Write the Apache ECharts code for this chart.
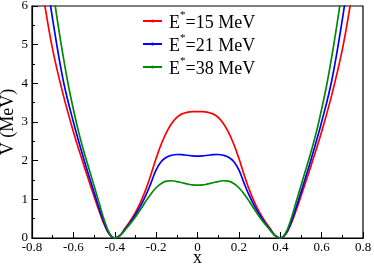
<!DOCTYPE html>
<html>
<head>
<meta charset="utf-8">
<script src="https://cdn.jsdelivr.net/npm/echarts@6/dist/echarts.min.js"></script>
<style>html,body{margin:0;padding:0;background:#fff;}#c{width:374px;height:266px;}</style>
</head>
<body>
<div id="c"></div>
<script>
var legendNames = ['=15 MeV', '=21 MeV', '=38 MeV'];
var seriesColors = ['#ff0000', '#0000ff', '#008b00'];

var red = [
  [-0.76, 6.7], [-0.74, 6.07], [-0.7, 4.87], [-0.65, 3.72], [-0.6, 2.75], [-0.55, 1.89], [-0.525, 1.48],
  [-0.5, 1.08], [-0.475, 0.69], [-0.45, 0.34], [-0.425, 0.09], [-0.4, 0],
  [-0.375, 0.07], [-0.35, 0.25], [-0.325, 0.44], [-0.3, 0.66], [-0.275, 0.93], [-0.25, 1.25], [-0.225, 1.64],
  [-0.2, 2.06], [-0.175, 2.43], [-0.15, 2.73], [-0.125, 2.96], [-0.1, 3.12], [-0.075, 3.21], [-0.05, 3.25],
  [-0.025, 3.27], [0, 3.27],
  [0.025, 3.27], [0.05, 3.25], [0.075, 3.21], [0.1, 3.12], [0.125, 2.96], [0.15, 2.73], [0.175, 2.43],
  [0.2, 2.06], [0.225, 1.64], [0.25, 1.25], [0.275, 0.93], [0.3, 0.66], [0.325, 0.44], [0.35, 0.25], [0.375, 0.07],
  [0.4, 0], [0.425, 0.09], [0.45, 0.34], [0.475, 0.69], [0.5, 1.08], [0.525, 1.48], [0.55, 1.89],
  [0.6, 2.75], [0.65, 3.72], [0.7, 4.87], [0.74, 6.07], [0.76, 6.7]
];
var blue = [
  [-0.73, 6.75], [-0.7, 5.65], [-0.65, 4.1], [-0.6, 3.0], [-0.55, 2.05], [-0.525, 1.61],
  [-0.5, 1.18], [-0.475, 0.76], [-0.45, 0.37], [-0.425, 0.1], [-0.4, 0],
  [-0.375, 0.06], [-0.35, 0.23], [-0.325, 0.4], [-0.3, 0.6], [-0.275, 0.83], [-0.25, 1.1], [-0.225, 1.42],
  [-0.2, 1.76], [-0.175, 1.98], [-0.15, 2.09], [-0.125, 2.14], [-0.1, 2.16], [-0.075, 2.155], [-0.05, 2.14],
  [-0.025, 2.125], [0, 2.12],
  [0.025, 2.125], [0.05, 2.14], [0.075, 2.155], [0.1, 2.16], [0.125, 2.14], [0.15, 2.09], [0.175, 1.98],
  [0.2, 1.76], [0.225, 1.42], [0.25, 1.1], [0.275, 0.83], [0.3, 0.6], [0.325, 0.4], [0.35, 0.23], [0.375, 0.06],
  [0.4, 0], [0.425, 0.1], [0.45, 0.37], [0.475, 0.76], [0.5, 1.18], [0.525, 1.61], [0.55, 2.05],
  [0.6, 3.0], [0.65, 4.1], [0.7, 5.65], [0.73, 6.75]
];
var green = [
  [-0.7, 6.45], [-0.675, 5.55], [-0.65, 4.72], [-0.625, 3.97], [-0.6, 3.33], [-0.575, 2.75], [-0.55, 2.25],
  [-0.525, 1.8], [-0.5, 1.35], [-0.475, 0.9], [-0.45, 0.45], [-0.425, 0.12], [-0.4, 0],
  [-0.375, 0.06], [-0.35, 0.21], [-0.325, 0.37], [-0.3, 0.54], [-0.275, 0.74], [-0.25, 0.95], [-0.225, 1.14],
  [-0.2, 1.3], [-0.175, 1.41], [-0.15, 1.47], [-0.125, 1.48], [-0.1, 1.46], [-0.075, 1.43], [-0.05, 1.4],
  [-0.025, 1.375], [0, 1.37],
  [0.025, 1.375], [0.05, 1.4], [0.075, 1.43], [0.1, 1.46], [0.125, 1.48], [0.15, 1.47], [0.175, 1.41],
  [0.2, 1.3], [0.225, 1.14], [0.25, 0.95], [0.275, 0.74], [0.3, 0.54], [0.325, 0.37], [0.35, 0.21], [0.375, 0.06],
  [0.4, 0], [0.425, 0.12], [0.45, 0.45], [0.475, 0.9], [0.5, 1.35], [0.525, 1.8], [0.55, 2.25],
  [0.575, 2.75], [0.6, 3.33], [0.625, 3.97], [0.65, 4.72], [0.675, 5.55], [0.7, 6.45]
];
var seriesData = [red, blue, green];

var FONT = '"Liberation Serif", "DejaVu Serif", serif';
var chart = echarts.init(document.getElementById('c'), null, {renderer: 'canvas'});
chart.setOption({
  animation: false,
  backgroundColor: '#fff',
  grid: {left: 32, top: 6, right: 11, bottom: 28, containLabel: false, outerBoundsMode: 'none',
         show: true, borderColor: '#000', borderWidth: 1.2, backgroundColor: 'transparent'},
  legend: {
    orient: 'vertical', left: 142, top: 10, padding: 0, itemGap: 1,
    itemWidth: 19, itemHeight: 4,
    data: legendNames,
    formatter: function (n) { return '{a|E}{s|*}{a|' + n + '}'; },
    textStyle: {
      fontFamily: FONT, color: '#000', padding: [0, 0, 0, 2],
      rich: {
        a: {fontFamily: FONT, fontSize: 18, color: '#000', lineHeight: 22, verticalAlign: 'bottom'},
        s: {fontFamily: FONT, fontSize: 11, color: '#000', verticalAlign: 'top', lineHeight: 11}
      }
    }
  },
  xAxis: {
    type: 'value', min: -0.8, max: 0.8, interval: 0.2,
    name: 'x', nameLocation: 'middle', nameGap: 11, nameMoveOverlap: false,
    nameTextStyle: {fontFamily: FONT, fontSize: 18, color: '#000'},
    axisLine: {onZero: false, lineStyle: {color: '#000', width: 1.2}},
    axisTick: {inside: true, length: 6, lineStyle: {color: '#000'}},
    minorTick: {show: true, splitNumber: 2, length: 3, lineStyle: {color: '#000'}},
    axisLabel: {fontFamily: FONT, fontSize: 13, color: '#000', margin: 3},
    splitLine: {show: false}
  },
  yAxis: {
    type: 'value', min: 0, max: 6, interval: 1,
    name: 'V (MeV)', nameLocation: 'middle', nameGap: 15, nameRotate: 90, nameMoveOverlap: false,
    nameTextStyle: {fontFamily: FONT, fontSize: 18, color: '#000'},
    axisLine: {onZero: false, lineStyle: {color: '#000', width: 1.2}},
    axisTick: {inside: true, length: 6, lineStyle: {color: '#000'}},
    minorTick: {show: true, splitNumber: 2, length: 3, lineStyle: {color: '#000'}},
    axisLabel: {fontFamily: FONT, fontSize: 13, color: '#000', margin: 4},
    splitLine: {show: false}
  },
  series: legendNames.map(function (n, i) {
    return {
      name: n, type: 'line', data: seriesData[i], smooth: 0.4,
      showSymbol: false, symbol: 'none', clip: true,
      lineStyle: {color: seriesColors[i], width: 1.7},
      itemStyle: {color: seriesColors[i]}
    };
  })
});
</script>
</body>
</html>
